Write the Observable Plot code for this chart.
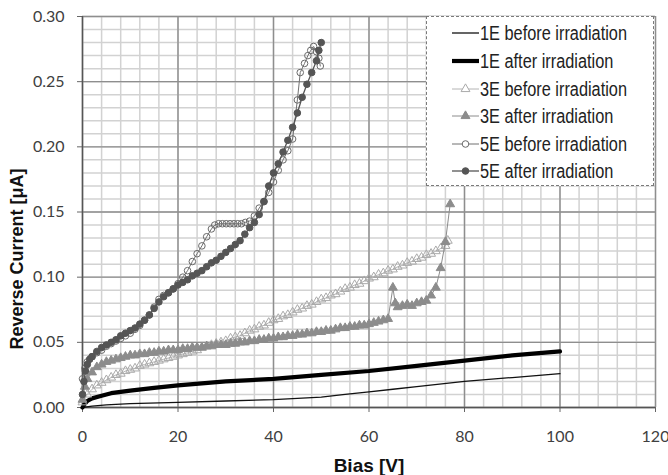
<!DOCTYPE html>
<html><head><meta charset="utf-8">
<script src="https://cdn.jsdelivr.net/npm/d3@7"></script>
<script src="https://cdn.jsdelivr.net/npm/@observablehq/plot@0.6"></script>
<style>
body{margin:0;background:#fff;}
#wrap{position:relative;width:668px;height:475px;overflow:hidden;}
#legend{position:absolute;left:426px;top:16px;width:228px;height:170px;background:#fff;border:1px dashed #7a7a7a;box-sizing:border-box;font-family:"Liberation Sans Narrow","Arial Narrow","Liberation Sans",sans-serif;font-size:19.5px;color:#222;}
.row{position:absolute;left:0;height:28px;display:flex;align-items:center;white-space:nowrap;}
.row svg{margin-left:25px;margin-right:1px;}
.row span{display:inline-block;transform-origin:left center;}
</style></head>
<body>
<div id="wrap"><div id="chart"></div><div id="legend"></div></div>
<script>
// ---- data ----
const xTicks = [0, 20, 40, 60, 80, 100, 120];
const yTicks = [0, 0.05, 0.10, 0.15, 0.20, 0.25, 0.30];
const seriesNames = ["1E before irradiation","1E after irradiation","3E before irradiation","3E after irradiation","5E before irradiation","5E after irradiation"];

const s1E_before = [[0,0],[2,0.001],[5,0.002],[10,0.003],[20,0.004],[30,0.005],[40,0.006],[50,0.008],[55,0.010],[60,0.012],[65,0.014],[70,0.016],[80,0.020],[90,0.023],[100,0.026]];
const s1E_after = [[0,0],[0.5,0.003],[1,0.005],[2,0.007],[4,0.009],[6,0.011],[10,0.013],[15,0.015],[20,0.017],[30,0.020],[40,0.022],[50,0.025],[60,0.028],[70,0.032],[80,0.036],[90,0.040],[100,0.043]];
const s3E_before = [[0,.004],[1,.010],[2,.014],[3,.017],[4,.019],[5,.021],[6,.023],[7,.025],[8,.026],[9,.028],[10,.029],[11,.030],[12,.032],[13,.033],[14,.034],[15,.035],[16,.036],[17,.037],[18,.038],[19,.039],[20,.040],[21,.041],[22,.042],[23,.043],[24,.044],[25,.046],[26,.047],[27,.048],[28,.049],[29,.050],[30,.051],[31,.053],[32,.054],[33,.055],[34,.057],[35,.059],[36,.060],[37,.062],[38,.063],[39,.065],[40,.067],[41,.068],[42,.070],[43,.071],[44,.073],[45,.075],[46,.076],[47,.078],[48,.079],[49,.081],[50,.083],[51,.084],[52,.086],[53,.087],[54,.089],[55,.091],[56,.092],[57,.094],[58,.095],[59,.097],[60,.099],[61,.100],[62,.102],[63,.103],[64,.105],[65,.106],[66,.108],[67,.109],[68,.111],[69,.112],[70,.114],[71,.115],[72,.117],[73,.118],[74,.120],[75,.122],[76,.124],[76.5,.128]];
const s3E_after = [[0,.006],[0.5,.016],[1,.022],[2,.027],[3,.031],[4,.033],[5,.035],[6,.036],[7,.037],[8,.038],[9,.039],[10,.040],[11,.040],[12,.041],[13,.041],[14,.042],[15,.042],[16,.043],[17,.043],[18,.044],[19,.044],[20,.044],[21,.045],[22,.045],[23,.046],[24,.046],[25,.046],[26,.047],[27,.047],[28,.048],[29,.048],[30,.048],[31,.049],[32,.049],[33,.050],[34,.050],[35,.051],[36,.051],[37,.052],[38,.052],[39,.053],[40,.053],[41,.054],[42,.054],[43,.055],[44,.055],[45,.056],[46,.056],[47,.057],[48,.057],[49,.058],[50,.058],[51,.059],[52,.059],[53,.060],[54,.061],[55,.061],[56,.062],[57,.062],[58,.063],[59,.063],[60,.064],[61,.065],[62,.066],[63,.067],[64,.068],[65,.092],[65.5,.080],[66,.077],[67,.078],[68,.079],[69,.078],[70,.080],[71,.081],[72,.082],[73,.086],[74,.092],[75,.107],[76,.127],[77,.156]];
const s5E_before = [[0,.022],[0.5,.030],[1,.035],[2,.039],[3,.042],[4,.044],[5,.047],[6,.049],[7,.051],[8,.053],[9,.055],[10,.057],[11,.060],[12,.063],[13,.067],[14,.071],[15,.077],[16,.083],[17,.086],[18,.088],[19,.091],[20,.095],[21,.100],[22,.105],[23,.112],[24,.118],[25,.124],[26,.131],[27,.137],[27.7,.140],[28.5,.141],[29.3,.141],[30.1,.141],[30.9,.141],[31.7,.141],[32.5,.141],[33.3,.141],[34.1,.142],[35,.143],[36,.147],[37,.153],[38,.158],[39,.165],[40,.173],[41,.182],[42,.190],[43,.197],[44,.206],[45,.236],[45.6,.257],[46.5,.264],[47.2,.270],[47.8,.274],[48.4,.277],[49,.273],[49.5,.268],[49.8,.262]];
const s5E_after = [[0,.010],[0.3,.020],[0.6,.028],[1,.033],[1.5,.037],[2,.039],[3,.043],[4,.046],[5,.048],[6,.050],[7,.052],[8,.055],[9,.057],[10,.059],[11,.061],[12,.064],[13,.067],[14,.071],[15,.076],[16,.081],[17,.085],[18,.088],[19,.091],[20,.094],[21,.096],[22,.098],[23,.101],[24,.103],[25,.105],[26,.108],[27,.111],[28,.113],[29,.116],[30,.119],[31,.122],[32,.125],[33,.128],[34,.133],[35,.138],[36,.142],[37,.148],[38,.158],[39,.170],[40,.180],[41,.187],[42,.196],[43,.205],[44,.215],[45,.226],[46,.238],[47,.248],[48,.257],[49,.266],[49.5,.274],[50,.280]];

const xTitle = "Bias [V]";
const yTitle = "Reverse Current [\u03bcA]";

// ---- styles ----
const styles = [
  {data: s1E_before, stroke: "#111", width: 1.3, symbol: null},
  {data: s1E_after,  stroke: "#000", width: 4.2, symbol: null},
  {data: s3E_before, stroke: "#b4b4b4", width: 1, symbol: "triangle", fill: "none", mstroke: "#aaaaaa"},
  {data: s3E_after,  stroke: "#8c8c8c", width: 1, symbol: "triangle", fill: "#8c8c8c", mstroke: "#8c8c8c"},
  {data: s5E_before, stroke: "#707070", width: 1, symbol: "circle", fill: "none", mstroke: "#6a6a6a"},
  {data: s5E_after,  stroke: "#555", width: 1.3, symbol: "circle", fill: "#555", mstroke: "#555"}
];

const minorX = d3.range(0, 120.1, 4);
const minorY = d3.range(0, 0.3001, 0.01);

const marks = [
  Plot.ruleX(minorX, {stroke: "#d2d2d2", strokeWidth: 1.5}),
  Plot.ruleY(minorY, {stroke: "#d2d2d2", strokeWidth: 1.5}),
  Plot.ruleX(xTicks, {stroke: "#8e8e8e", strokeWidth: 1.4}),
  Plot.ruleY(yTicks, {stroke: "#8e8e8e", strokeWidth: 1.4}),
  Plot.axisX(xTicks, {tickSize: 5, tickPadding: 18, label: null, stroke: "#666"}),
  Plot.axisY(yTicks, {tickSize: 5, tickPadding: 13, label: null, tickFormat: d3.format(".2f"), stroke: "#666"}),
  Plot.ruleX([0], {stroke: "#555", strokeWidth: 1.4}),
  Plot.ruleY([0], {stroke: "#555", strokeWidth: 1.4})
];
for (const s of styles) {
  marks.push(Plot.line(s.data, {x: d => d[0], y: d => d[1], stroke: s.stroke, strokeWidth: s.width}));
  if (s.symbol) marks.push(Plot.dot(s.data, {x: d => d[0], y: d => d[1], symbol: s.symbol, r: 3.3, fill: s.fill, stroke: s.mstroke, strokeWidth: 1}));
}
marks.push(Plot.text([xTitle], {frameAnchor: "bottom", dy: 58, lineAnchor: "middle", textAnchor: "middle", text: d => d, fontWeight: "bold", fontSize: 19, fontFamily: "Liberation Sans, Arial, sans-serif", fill: "#111"}));
marks.push(Plot.text([yTitle], {frameAnchor: "left", dx: -65, dy: 47, rotate: -90, lineAnchor: "middle", textAnchor: "middle", text: d => d, fontWeight: "bold", fontSize: 18, fontFamily: "Liberation Sans, Arial, sans-serif", fill: "#111"}));

const chart = Plot.plot({
  width: 668, height: 475,
  marginLeft: 82, marginRight: 13, marginTop: 16, marginBottom: 68,
  x: {domain: [0, 120]},
  y: {domain: [0, 0.30]},
  style: {fontFamily: "Lato, 'Open Sans', sans-serif", fontSize: "16px", color: "#404040", background: "#fff"},
  marks
});
document.getElementById("chart").append(chart);

// ---- legend ----
const legend = document.getElementById("legend");
const rowCenters = [16, 44, 72, 99, 127, 154];
const spans = [];
styles.forEach((s, i) => {
  const row = document.createElement("div");
  row.className = "row";
  row.style.top = (rowCenters[i] - 14) + "px";
  const ns = "http://www.w3.org/2000/svg";
  const svg = document.createElementNS(ns, "svg");
  svg.setAttribute("width", 27); svg.setAttribute("height", 14);
  const ln = document.createElementNS(ns, "line");
  ln.setAttribute("x1", 0); ln.setAttribute("x2", 27); ln.setAttribute("y1", 7); ln.setAttribute("y2", 7);
  ln.setAttribute("stroke", s.stroke); ln.setAttribute("stroke-width", s.width);
  svg.appendChild(ln);
  if (s.symbol) {
    const sym = document.createElementNS(ns, "path");
    const gen = d3.symbol(s.symbol === "triangle" ? d3.symbolTriangle : d3.symbolCircle, Math.PI * 3.3 * 3.3);
    sym.setAttribute("d", gen());
    sym.setAttribute("transform", "translate(13.5,7)");
    sym.setAttribute("fill", s.fill === "none" ? "#fff" : s.fill);
    sym.setAttribute("stroke", s.mstroke);
    svg.appendChild(sym);
  }
  row.appendChild(svg);
  const t = document.createElement("span");
  t.textContent = seriesNames[i];
  row.appendChild(t);
  legend.appendChild(row);
  spans.push(t);
});
// condense text to the reference's narrow face width (~147px for the first entry)
const w0 = spans[0].getBoundingClientRect().width;
const k = Math.min(1, 147 / w0);
spans.forEach(t => { t.style.transform = `scaleX(${k})`; });
</script>
</body></html>
